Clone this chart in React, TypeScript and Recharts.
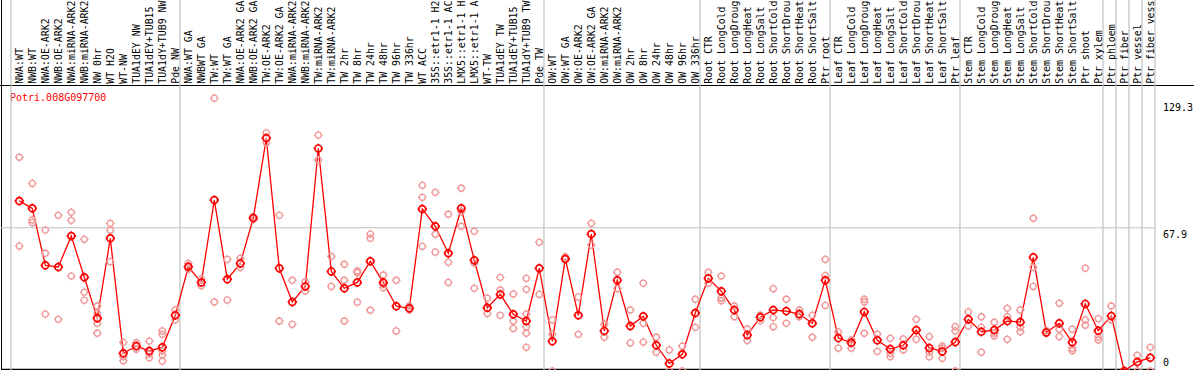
import React from "react";
import { ComposedChart, Line, Scatter, XAxis, YAxis, ReferenceLine } from "recharts";

const labels = [
  "NWA:WT", "NWB:WT", "NWA:OE-ARK2", "NWB:OE-ARK2", "NWA:miRNA-ARK2", "NWB:miRNA-ARK2",
  "NW 0hr", "WT H2O", "WT-NW", "TUA1dEY NW", "TUA1dEY+TUB15 NW", "TUA1dY+TUB9 NW", "Pde NW",
  "NWA:WT GA", "NWBWT GA", "TW:WT", "TW:WT GA", "NWA:OE-ARK2 GA", "NWB:OE-ARK2 GA",
  "TW:OE-ARK2", "TW:OE-ARK2 GA", "NWA:miRNA-ARK2", "NWB:miRNA-ARK2", "TW:miRNA-ARK2",
  "TW:miRNA-ARK2", "TW 2hr", "TW 8hr", "TW 24hr", "TW 48hr", "TW 96hr", "TW 336hr",
  "WT ACC", "35S::etr1-1 H2O", "35S::etr1-1 ACC", "LMX5::etr1-1 H2O", "LMX5::etr1-1 ACC",
  "WT-TW", "TUA1dEY TW", "TUA1dEY+TUB15 TW", "TUA1dY+TUB9 TW", "Pde TW",
  "OW:WT", "OW:WT GA", "OW:OE-ARK2", "OW:OE-ARK2 GA", "OW:miRNA-ARK2", "OW:miRNA-ARK2",
  "OW 2hr", "OW 8hr", "OW 24hr", "OW 48hr", "OW 96hr", "OW 336hr",
  "Root CTR", "Root LongCold", "Root LongDrought", "Root LongHeat", "Root LongSalt",
  "Root ShortCold", "Root ShortDrought", "Root ShortHeat", "Root ShortSalt", "Ptr root",
  "Leaf CTR", "Leaf LongCold", "Leaf LongDrought", "Leaf LongHeat", "Leaf LongSalt",
  "Leaf ShortCold", "Leaf ShortDrought", "Leaf ShortHeat", "Leaf ShortSalt", "Ptr leaf",
  "Stem CTR", "Stem LongCold", "Stem LongDrought", "Stem LongHeat", "Stem LongSalt",
  "Stem ShortCold", "Stem ShortDrought", "Stem ShortHeat", "Stem ShortSalt", "Ptr shoot",
  "Ptr xylem", "Ptr phloem", "Ptr fiber", "Ptr vessel", "Ptr fiber vessel",
];

// mean expression per sample
const means = [
  80.6, 77.1, 50.1, 49.3, 64.0, 44.4, 25.0, 62.9, 8.4, 11.8, 9.5, 11.2, 26.4,
  49.4, 42.0, 81.0, 43.5, 51.0, 72.5, 110.4, 48.7, 32.7, 40.1, 105.5, 47.2, 39.2,
  42.0, 52.0, 41.9, 30.7, 29.7, 76.8, 68.6, 55.8, 77.1, 52.5, 30.0, 36.3, 26.9,
  23.7, 48.7, 14.1, 53.1, 26.4, 64.9, 19.0, 43.0, 21.3, 25.9, 12.2, 3.6, 7.9, 27.5,
  43.9, 37.8, 28.9, 17.1, 25.5, 28.9, 28.4, 27.0, 22.6, 43.0,
  15.6, 13.4, 28.0, 14.6, 10.4, 12.2, 19.4, 10.9, 9.3, 13.7,
  24.5, 18.6, 19.4, 23.7, 23.2, 53.9, 18.3, 22.6, 13.6, 31.8, 19.1,
  26.1, 0, 4.3, 6.3,
];

// replicate values per sample
const reps = [
  [101.3, 59.2], [88.9, 71.6, 70.3], [66.8, 55.8, 27.0], [73.8, 24.5], [75.2, 71.4, 45.0],
  [62.4, 37.3, 33.5], [30.8, 27.3, 22.6, 17.9], [70.0, 66.8, 51.8], [13.6, 6.8, 4.9],
  [13.4, 10.3], [14.2, 8.1, 6.3], [19.0, 17.4, 9.5, 7.6, 4.7], [28.9, 24.2],
  [51.0, 48.3], [43.6, 40.4], [129.3, 32.7], [52.9, 33.6], [53.4, 49.1], [73.1, 71.9],
  [112.9, 108.2], [73.8, 23.7], [43.0, 22.1], [42.3, 37.9], [111.8, 100.0], [54.3, 40.1],
  [50.6, 43.0, 23.7], [47.4, 46.6, 32.6], [64.9, 62.9, 28.8], [45.5, 41.1, 39.5],
  [43.0, 19.0], [30.8, 28.9], [88.0, 82.3, 59.1], [84.7, 64.8, 56.3], [74.3, 51.5, 42.0],
  [86.6, 75.5, 68.6], [66.2, 51.2, 39.2], [34.5, 27.2], [44.4, 38.4, 26.4],
  [36.5, 23.7, 20.2], [43.9, 38.7, 27.0, 21.0, 17.9, 11.2], [61.0, 36.3],
  [24.2, 17.4, 0], [54.2, 53.4], [35.1, 17.4], [70.0, 59.7], [22.1, 16.0], [46.8, 39.0],
  [28.9, 13.3], [41.6, 22.6, 13.7], [16.0, 8.9], [10.0, 0], [11.8, 0], [34.0, 20.7],
  [46.8, 41.6], [45.0, 34.6, 33.3], [30.8, 25.7], [19.9, 14.4], [26.5, 23.8],
  [39.0, 25.3, 21.0], [34.0, 22.6], [28.9, 25.7], [26.4, 16.0], [52.9, 45.2, 31.1],
  [18.5, 10.8], [14.7, 10.8], [34.0, 32.7, 17.9], [17.5, 9.3], [15.5, 8.4, 6.8],
  [15.2, 10.0], [24.5, 15.0], [16.3, 9.0, 6.8], [11.8, 10.8, 6.0], [21.0, 19.0, 0],
  [28.0, 21.3], [25.7, 20.7, 8.9], [23.1, 17.9, 16.6], [29.7, 25.7, 15.0],
  [28.9, 20.7, 18.6], [72.4, 49.1, 40.1], [19.1, 17.9], [32.1, 19.8, 16.3],
  [19.8, 10.8, 9.6], [48.7, 24.2, 21.7], [24.8, 16.1, 14.7], [30.8, 24.2], [0],
  [7.4, 0], [11.2, 0],
];

// first sample index of each group (last = end)
const groupStarts = [0, 13, 41, 53, 63, 73, 84, 85, 86, 87, 88];
const yTicks = [0, 67.9, 129.3];
const geneName = "Potri.008G097700";

const meanData = means.map((v, i) => ({ i, v }));
const repData = reps.flatMap((r, i) => r.map((v) => ({ i, v })));
const idx = labels.map((_, i) => i);

const MONO = "'DejaVu Sans Mono', monospace";
const Y_MIN = 0.474;
const Y_MAX = 135.07;
const Y_HEADER_TOP = 175.8;
const HEADER_CHARS = 14; // header strip only fits this many characters

const Ring = ({ cx, cy, color, r, w }: any) => {
  if (cx == null || cy == null) return null;
  const s = r + 1.3;
  return (
    <g stroke={color} strokeWidth={w} fill="none">
      <circle cx={cx} cy={cy} r={r} />
      <line x1={cx} y1={cy - r} x2={cx} y2={cy - s} />
      <line x1={cx} y1={cy + r} x2={cx} y2={cy + s} />
      <line x1={cx - r} y1={cy} x2={cx - s} y2={cy} />
      <line x1={cx + r} y1={cy} x2={cx + s} y2={cy} />
    </g>
  );
};

const HeaderTick = ({ x, payload }: any) => {
  const bx = x + 3.5;
  const by = 83.8;
  return (
    <text x={bx} y={by} transform={`rotate(-90, ${bx}, ${by})`} fontFamily={MONO} fontSize={9.9} fill="#000" textAnchor="start">
      {labels[payload.value].slice(0, HEADER_CHARS).trimEnd()}
    </text>
  );
};

const ValueTick = ({ x, y, payload }: any) => {
  const v = payload.value;
  const dy = v === 0 ? -5 : v === 129.3 ? 12.5 : 9.8;
  return (
    <text x={x} y={y + dy} fontFamily={MONO} fontSize={10} fill="#000" textAnchor="start">
      {v}
    </text>
  );
};

const Frame = () => (
  <g>
    <line x1={0} x2={1194} y1={85.5} y2={85.5} stroke="#000" strokeWidth={1} />
    <line x1={1.5} x2={1.5} y1={0} y2={370} stroke="#000" strokeWidth={1} />
    <line x1={1} x2={1155} y1={369.5} y2={369.5} stroke="#000" strokeWidth={1.5} />
    <text x={10} y={100.5} fontFamily={MONO} fontSize={10} fill="#ff0000">{geneName}</text>
  </g>
);

export default function App() {
  return (
    <div style={{ position: "absolute", left: 0, top: 0, width: 1194, height: 370, overflow: "hidden", background: "#fff" }}>
      <ComposedChart width={1194} height={370} margin={{ top: 0, right: 0, bottom: 0, left: 1 }}>
        <XAxis
          xAxisId="x"
          type="number"
          dataKey="i"
          orientation="top"
          height={86}
          domain={[-1.408, 87.362]}
          allowDataOverflow
          ticks={idx}
          interval={0}
          axisLine={false}
          tickLine={false}
          tick={<HeaderTick />}
        />
        <YAxis
          yAxisId="y"
          orientation="right"
          width={39}
          domain={[Y_MIN, Y_MAX]}
          allowDataOverflow
          ticks={yTicks}
          interval={0}
          axisLine={false}
          tickLine={false}
          tickSize={0}
          tickMargin={8}
          tick={<ValueTick />}
        />
        {groupStarts.map((s) => (
          <ReferenceLine
            key={s}
            xAxisId="x"
            yAxisId="y"
            ifOverflow="visible"
            segment={[{ x: s - 0.64, y: Y_MIN }, { x: s - 0.64, y: Y_HEADER_TOP }]}
            stroke="#c0c0c0"
            strokeWidth={1.2}
          />
        ))}
        <ReferenceLine xAxisId="x" yAxisId="y" y={67.9} stroke="#c0c0c0" strokeWidth={1.2} />
        <Scatter
          xAxisId="x"
          yAxisId="y"
          data={repData}
          dataKey="v"
          isAnimationActive={false}
          shape={(p: any) => <Ring cx={p.cx} cy={p.cy} r={3} w={1.3} color="#f09a9a" />}
        />
        <Line
          xAxisId="x"
          yAxisId="y"
          data={meanData}
          dataKey="v"
          stroke="#ff0000"
          strokeWidth={1.3}
          isAnimationActive={false}
          dot={(p: any) => <Ring key={p.index} cx={p.cx} cy={p.cy} r={3.4} w={1.7} color="#ff0000" />}
          activeDot={false}
        />
        <Frame />
      </ComposedChart>
    </div>
  );
}
